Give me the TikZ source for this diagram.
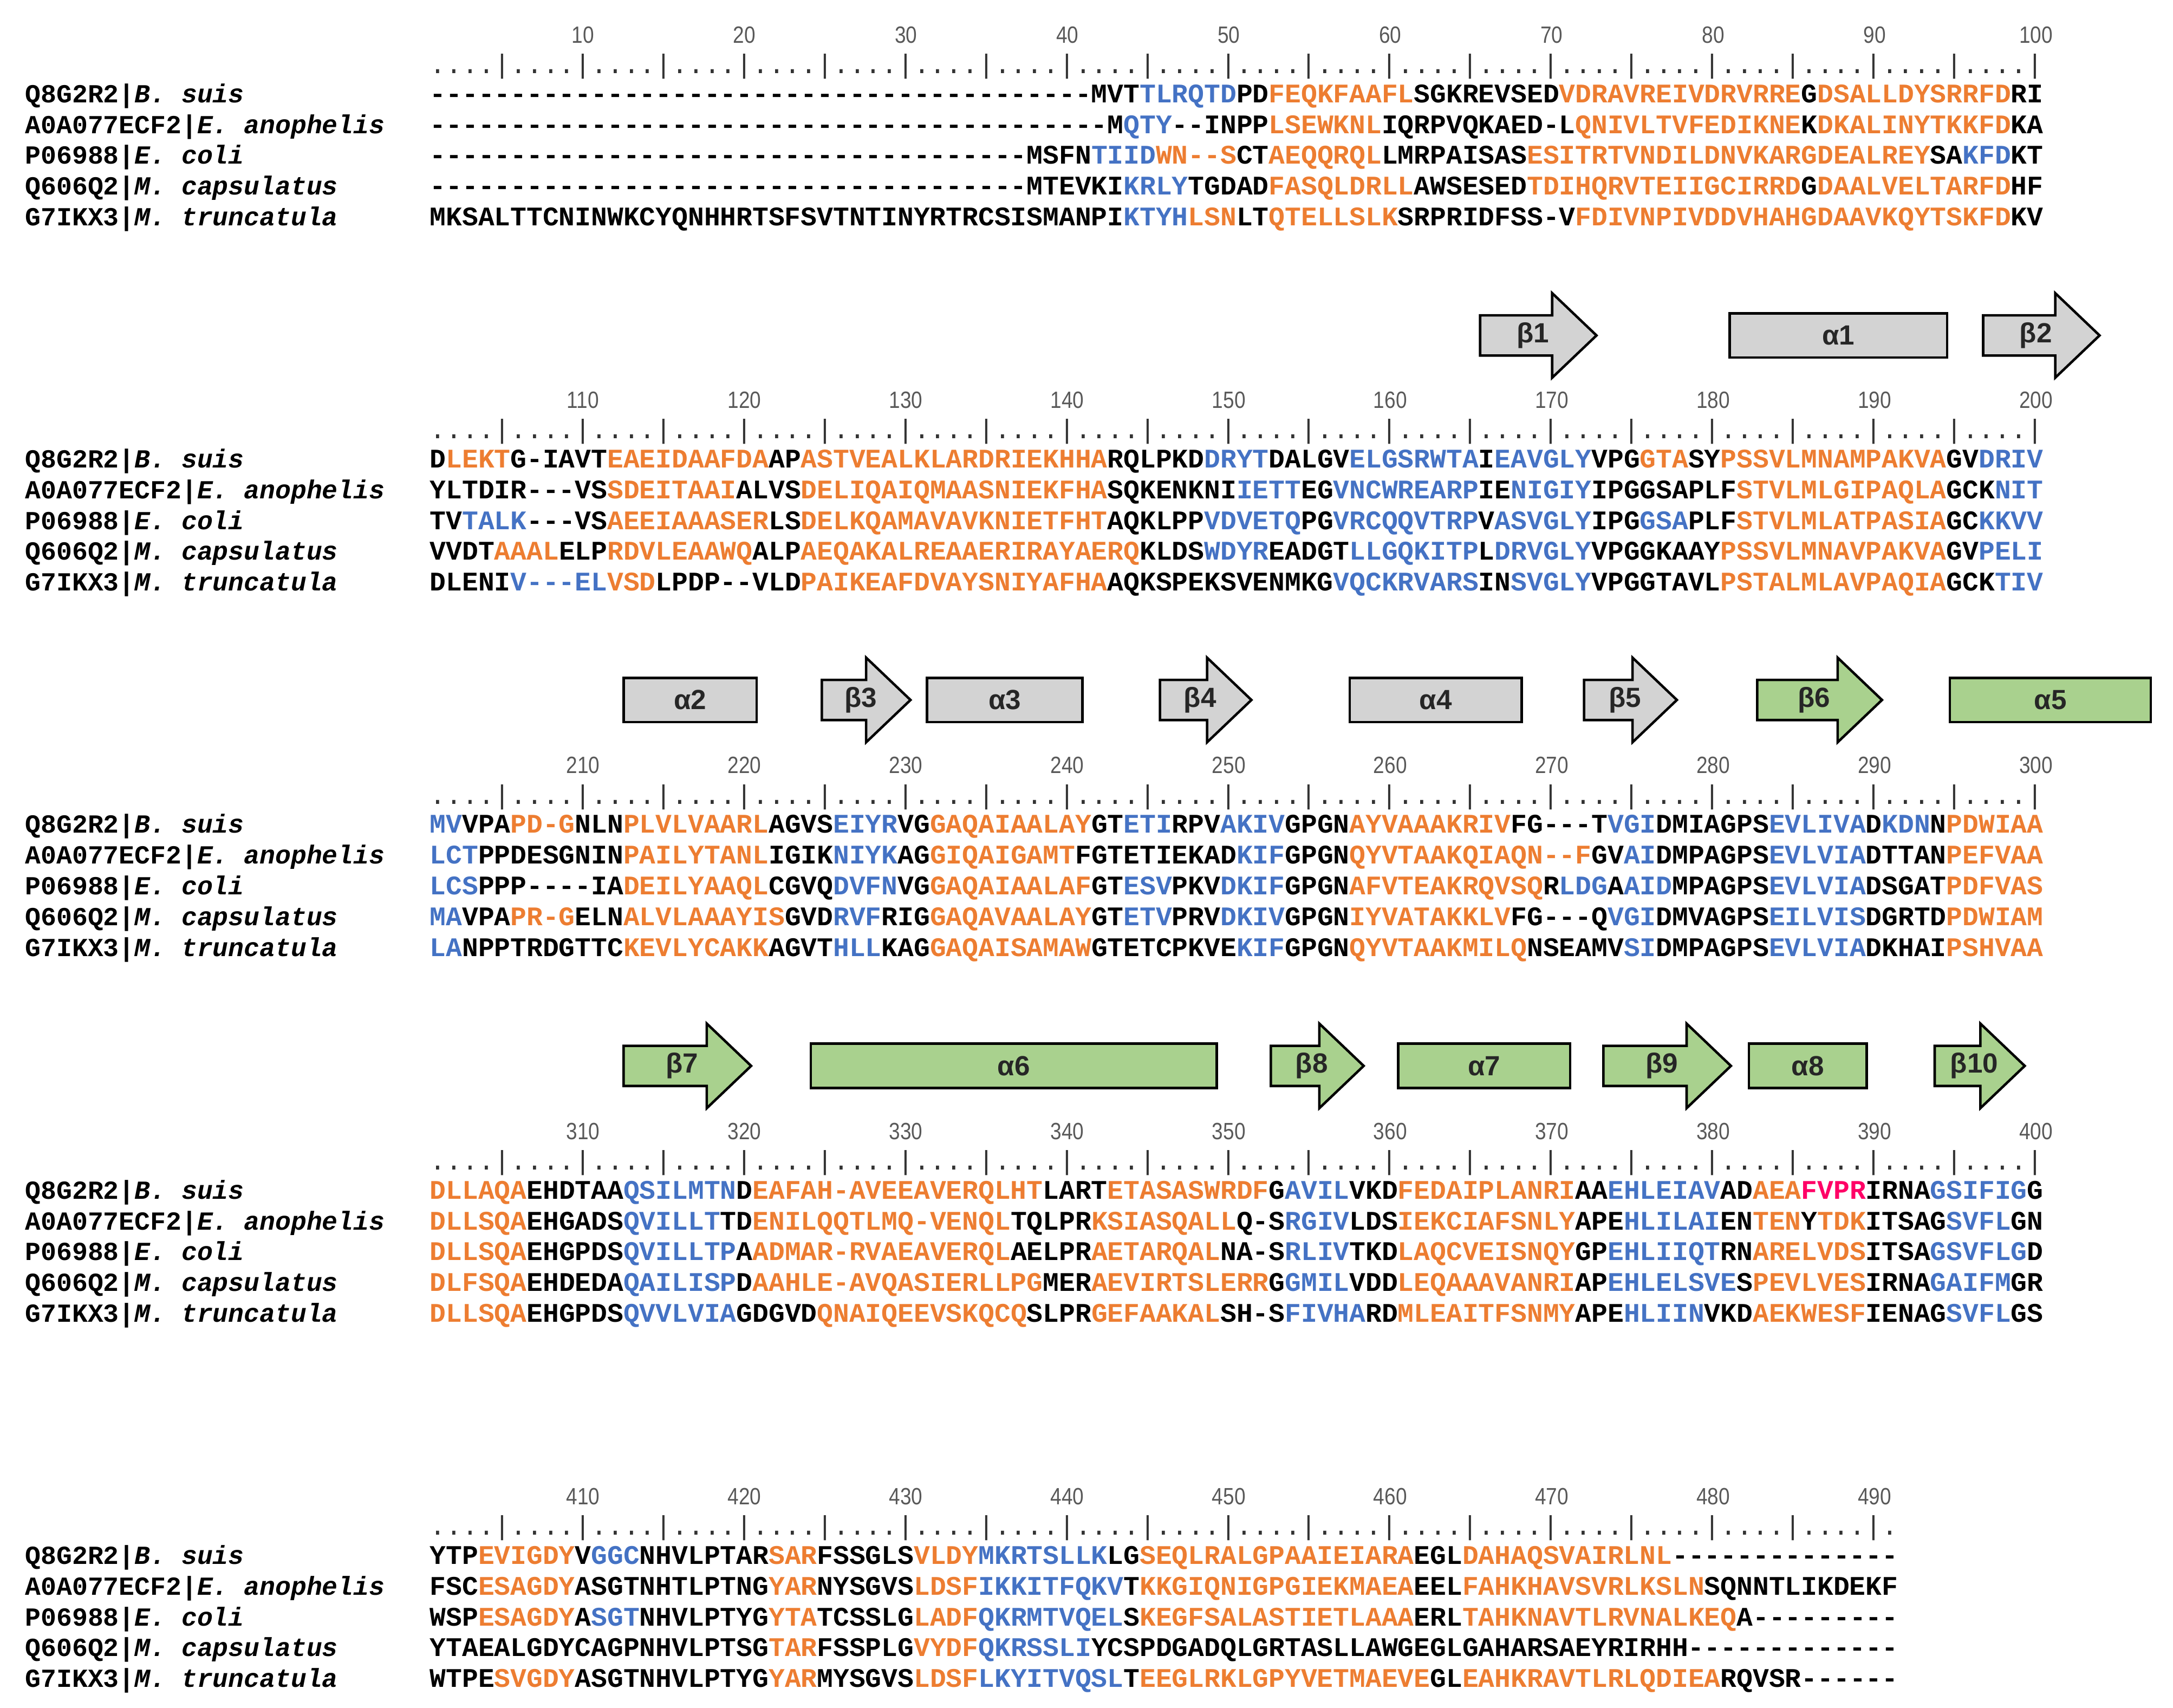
\documentclass[tikz,border=0pt]{standalone}
\usepackage{fontspec}
\setmonofont{Liberation Mono}
\setsansfont{Liberation Sans}
\definecolor{orn}{HTML}{ED7D31}
\definecolor{blu}{HTML}{4472C4}
\definecolor{mag}{HTML}{FF0066}
\definecolor{ssgrey}{HTML}{D3D3D3}
\definecolor{ssgreen}{HTML}{A9D18E}
\definecolor{numgrey}{HTML}{595959}
\def\O#1{\textcolor{orn}{#1}}
\def\B#1{\textcolor{blu}{#1}}
\def\M#1{\textcolor{mag}{#1}}
\newcommand\mysheet[5]{%
  \draw[ss,fill=#5] (#1,#3-14.5)--(#2-32,#3-14.5)--(#2-32,#3-30.5)--(#2,#3)--(#2-32,#3+30.5)--(#2-32,#3+14.5)--(#1,#3+14.5)--cycle;
  \node[sslab] at ({(#1+#2)/2-4},#3) {#4};}
\newcommand\myhelix[5]{%
  \draw[ss,fill=#5] (#1,#3-16) rectangle (#2,#3+16);
  \node[sslab] at ({(#1+#2)/2},#3) {#4};}
\begin{document}
\begin{tikzpicture}[x=1pt,y=-1pt,
  seq/.style={inner sep=0pt,anchor=base west,font=\fontsize{19.4}{20}\selectfont\ttfamily\bfseries},
  lab/.style={inner sep=0pt,anchor=base west,font=\fontsize{18.8}{20}\selectfont\ttfamily\bfseries},
  rul/.style={inner sep=0pt,anchor=base west,font=\fontsize{19.4}{20}\selectfont\ttfamily,text=black!80},
  num/.style={inner sep=0pt,anchor=base,font=\fontsize{17}{18}\selectfont\sffamily,text=numgrey},
  ss/.style={line width=1.8pt,draw=black},
  sslab/.style={font=\fontsize{20}{22}\selectfont\sffamily\bfseries,text=black!85}]
\useasboundingbox (0,0) rectangle (1568,1232);
% labels
\foreach \o in {0,263.5,527,791,1054.5}{
  \node[lab] at (18,74+\o) {Q8G2R2|\textit{B. suis}};
  \node[lab] at (18,96.2+\o) {A0A077ECF2|\textit{E. anophelis}};
  \node[lab] at (18,118.4+\o) {P06988|\textit{E. coli}};
  \node[lab] at (18,140.6+\o) {Q606Q2|\textit{M. capsulatus}};
  \node[lab] at (18,162.8+\o) {G7IKX3|\textit{M. truncatula}};
}
% rulers and numbers
\foreach \o/\b in {0/0,263.5/100,527/200,791/300}{
  \node[rul] at (310,53+\o) {....|....|....|....|....|....|....|....|....|....|....|....|....|....|....|....|....|....|....|....|};
  \foreach \k in {1,...,10}{
    \pgfmathtruncatemacro\n{\b+10*\k}
    \node[num,xscale=1] at ({310+(10*\k-0.5)*11.65},31+\o) {\scalebox{0.85}[1]{\n}};}
}
\node[rul] at (310,53+1054.5) {....|....|....|....|....|....|....|....|....|....|....|....|....|....|....|....|....|....|.};
\foreach \k in {1,...,9}{
  \pgfmathtruncatemacro\n{400+10*\k}
  \node[num] at ({310+(10*\k-0.5)*11.65},31+1054.5) {\scalebox{0.85}[1]{\n}};}
% block 1
\node[seq] at (310,74) {-----------------------------------------MVT\B{TLRQTD}PD\O{FEQKFAAFL}SGKREVSED\O{VDRAVREIVDRVRRE}G\O{DSALLDYSRRFD}RI};
\node[seq] at (310,96.2) {------------------------------------------M\B{QTY}--INPP\O{LSEWKNL}IQRPVQKAED-L\O{QNIVLTVFEDIKNE}K\O{DKALINYTKKFD}KA};
\node[seq] at (310,118.4) {-------------------------------------MSFN\B{TIID}\O{WN--S}CT\O{AEQQRQL}LMRPAISAS\O{ESITRTVNDILDNVKARGDEALREY}SA\B{KFD}KT};
\node[seq] at (310,140.6) {-------------------------------------MTEVKI\B{KRLY}TGDAD\O{FASQLDRLL}AWSESED\O{TDIHQRVTEIIGCIRRD}G\O{DAALVELTARFD}HF};
\node[seq] at (310,162.8) {MKSALTTCNINWKCYQNHHRTSFSVTNTINYRTRCSISMANPI\B{KTYH}\O{LSN}LT\O{QTELLSLK}SRPRIDFSS-V\O{FDIVNPIVDDVHAHGDAAVKQYTSKFD}KV};
% block 2
\begin{scope}[yshift=-263.5pt]
\node[seq] at (310,74) {D\O{LEKT}G-IAVT\O{EAEIDAAFDA}AP\O{ASTVEALKLARDRIEKHHA}RQLPKD\B{DRYT}DALGV\B{ELGSRWTA}I\B{EAVGLY}VPG\O{GTA}SY\O{PSSVLMNAMPAKVA}GV\B{DRIV}};
\node[seq] at (310,96.2) {YLTDIR---VS\O{SDEITAAI}ALVS\O{DELIQAIQMAASNIEKFHA}SQKENKNI\B{IETT}EG\B{VNCWREARP}IE\B{NIGIY}IPGGSAPLF\O{STVLMLGIPAQLA}GCK\B{NIT}};
\node[seq] at (310,118.4) {TV\B{TALK}---VS\O{AEEIAAASER}LS\O{DELKQAMAVAVKNIETFHT}AQKLPP\B{VDVETQ}PG\B{VRCQQVTRP}V\B{ASVGLY}IPG\B{GSA}PLF\O{STVLMLATPASIA}GC\B{KKVV}};
\node[seq] at (310,140.6) {VVDT\O{AAAL}ELP\O{RDVLEAAWQ}ALP\O{AEQAKALREAAERIRAYAERQ}KLDS\B{WDYR}EADGT\B{LLGQKITP}L\B{DRVGLY}VPGGKAAY\O{PSSVLMNAVPAKVA}GV\B{PELI}};
\node[seq] at (310,162.8) {DLENI\B{V---EL}\O{VSD}LPDP--VLD\O{PAIKEAFDVAYSNIYAFHA}AQKSPEKSVENMKG\B{VQCKRVARS}IN\B{SVGLY}VPGGTAVL\O{PSTALMLAVPAQIA}GCK\B{TIV}};
\end{scope}
% block 3
\begin{scope}[yshift=-527pt]
\node[seq] at (310,74) {\B{MV}VPA\O{PD-G}NLN\O{PLVLVAARL}AGVS\B{EIYR}VG\O{GAQAIAALAY}GT\B{ETI}RPV\B{AKIV}GPGN\O{AYVAAAKRIV}FG---T\B{VGI}DMIAGPS\B{EVLIVA}D\B{KDN}N\O{PDWIAA}};
\node[seq] at (310,96.2) {\B{LCT}PPDESGNIN\O{PAILYTANL}IGIK\B{NIYK}AG\O{GIQAIGAMT}FGTETIEKAD\B{KIF}GPGN\O{QYVTAAKQIAQN--F}GV\B{AI}DMPAGPS\B{EVLVIA}DTTAN\O{PEFVAA}};
\node[seq] at (310,118.4) {\B{LCS}PPP----IA\O{DEILYAAQL}CGVQ\B{DVFN}VG\O{GAQAIAALAF}GT\B{ESV}PKV\B{DKIF}GPGN\O{AFVTEAKRQVSQ}R\B{LDG}A\B{AID}MPAGPS\B{EVLVIA}DSGAT\O{PDFVAS}};
\node[seq] at (310,140.6) {\B{MA}VPA\O{PR-G}ELN\O{ALVLAAAYIS}GVD\B{RVF}RIG\O{GAQAVAALAY}GT\B{ETV}PRV\B{DKIV}GPGN\O{IYVATAKKLV}FG---Q\B{VGI}DMVAGPS\B{EILVIS}DGRTD\O{PDWIAM}};
\node[seq] at (310,162.8) {\B{LA}NPPTRDGTTC\O{KEVLYCAKK}AGVT\B{HLL}KAG\O{GAQAISAMAW}GTETCPKVE\B{KIF}GPGN\O{QYVTAAKMILQ}NSEAMV\B{SI}DMPAGPS\B{EVLVIA}DKHAI\O{PSHVAA}};
\end{scope}
% block 4
\begin{scope}[yshift=-791pt]
\node[seq] at (310,74) {\O{DLLAQA}EHDTAA\B{QSILMTN}D\O{EAFAH-AVEEAVERQLHT}LART\O{ETASASWRDF}G\B{AVIL}VKD\O{FEDAIPLANRI}AA\B{EHLEIAV}AD\O{AEA}\M{FVPR}IRNA\B{GSIFIG}G};
\node[seq] at (310,96.2) {\O{DLLSQA}EHGADS\B{QVILLT}TD\O{ENILQQTLMQ-VENQL}TQLPR\O{KSIASQALL}Q-S\B{RGIV}LDS\O{IEKCIAFSNLY}APE\B{HLILAI}EN\O{TEN}Y\O{TDK}ITSAG\B{SVFL}GN};
\node[seq] at (310,118.4) {\O{DLLSQA}EHGPDS\B{QVILLTP}A\O{ADMAR-RVAEAVERQL}AELPR\O{AETARQAL}NA-S\B{RLIV}TKD\O{LAQCVEISNQY}GP\B{EHLIIQT}RN\O{ARELVDS}ITSA\B{GSVFLG}D};
\node[seq] at (310,140.6) {\O{DLFSQA}EHDEDA\B{QAILISP}D\O{AAHLE-AVQASIERLLPG}MER\O{AEVIRTSLERR}G\B{GMIL}VDD\O{LEQAAAVANRI}AP\B{EHLELSVE}S\O{PEVLVES}IRNA\B{GAIFM}GR};
\node[seq] at (310,162.8) {\O{DLLSQA}EHGPDS\B{QVVLVIA}GDGVD\O{QNAIQEEVSKQCQ}SLPR\O{GEFAAKAL}SH-S\B{FIVHA}RD\O{MLEAITFSNMY}APE\B{HLIIN}VKD\O{AEKWESF}IENAG\B{SVFL}GS};
\end{scope}
% block 5
\begin{scope}[yshift=-1054.5pt]
\node[seq] at (310,74) {YTP\O{EVIGDY}V\B{GGC}NHVLPTAR\O{SAR}FSSGLS\O{VLDY}\B{MKRTSLLK}LG\O{SEQLRALGPAAIEIARA}EGL\O{DAHAQSVAIRLNL}--------------};
\node[seq] at (310,96.2) {FSC\O{ESAGDY}ASGTNHTLPTNG\O{YAR}NYSGVS\O{LDSF}\B{IKKITFQKV}T\O{KKGIQNIGPGIEKMAEA}EEL\O{FAHKHAVSVRLKSLN}SQNNTLIKDEKF};
\node[seq] at (310,118.4) {WSP\O{ESAGDY}A\B{SGT}NHVLPTYG\O{YTA}TCSSLG\O{LADF}\B{QKRMTVQEL}S\O{KEGFSALASTIETLAAA}ERL\O{TAHKNAVTLRVNALKEQ}A---------};
\node[seq] at (310,140.6) {YTAEALGDYCAGPNHVLPTSG\O{TAR}FSSPLG\O{VYDF}\B{QKRSSLI}YCSPDGADQLGRTASLLAWGEGLGAHARSAEYRIRHH-------------};
\node[seq] at (310,162.8) {WTPE\O{SVGDY}ASGTNHVLPTYG\O{YAR}MYSGVS\O{LDSF}\B{LKYITVQSL}T\O{EEGLRKLGPYVETMAEVE}GL\O{EAHKRAVTLRLQDIEA}RQVSR------};
\end{scope}
% secondary structure
\mysheet{1068}{1152}{242}{β1}{ssgrey}
\myhelix{1248}{1405}{242}{α1}{ssgrey}
\mysheet{1431}{1515}{242}{β2}{ssgrey}
\myhelix{450}{546}{505}{α2}{ssgrey}
\mysheet{593}{657}{505}{β3}{ssgrey}
\myhelix{669}{781}{505}{α3}{ssgrey}
\mysheet{837}{903}{505}{β4}{ssgrey}
\myhelix{974}{1098}{505}{α4}{ssgrey}
\mysheet{1143}{1210}{505}{β5}{ssgrey}
\mysheet{1268}{1358}{505}{β6}{ssgreen}
\myhelix{1407}{1552}{505}{α5}{ssgreen}
\mysheet{450}{542}{769}{β7}{ssgreen}
\myhelix{585}{878}{769}{α6}{ssgreen}
\mysheet{917}{984}{769}{β8}{ssgreen}
\myhelix{1009}{1133}{769}{α7}{ssgreen}
\mysheet{1157}{1249}{769}{β9}{ssgreen}
\myhelix{1262}{1347}{769}{α8}{ssgreen}
\mysheet{1396}{1461}{769}{β10}{ssgreen}
\end{tikzpicture}
\end{document}
